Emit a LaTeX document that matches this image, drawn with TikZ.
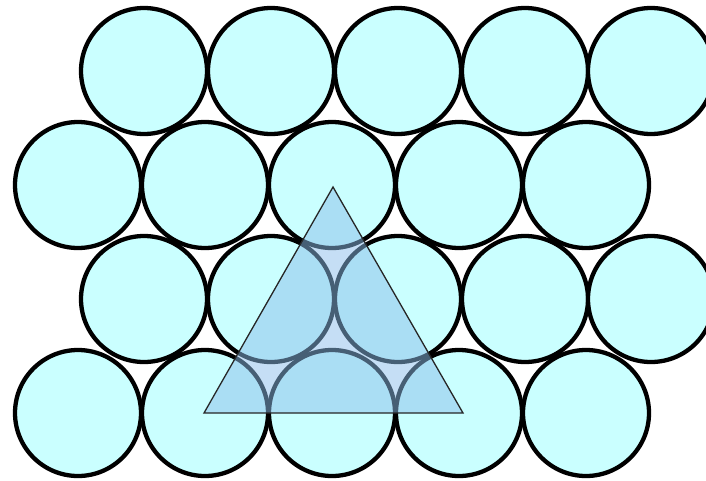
\documentclass[tikz,border=0pt]{standalone}
\usepackage{tikz}
\definecolor{ballfill}{RGB}{202,255,255}
\definecolor{trifill}{RGB}{140,190,235}
\tikzset{
  ball/.style={circle, draw=black, fill=ballfill, line width=4.3pt, minimum size=126pt, inner sep=0pt, outer sep=0pt},
  tri/.style={draw=black!85, line width=1.3pt, fill=trifill, fill opacity=0.5, line join=miter}
}
\begin{document}
\begin{tikzpicture}[x=1pt,y=-1pt]
\useasboundingbox (0,0) rectangle (706,480);
% row 1
\foreach \i/\x in {1/144,2/271,3/398,4/525,5/651}
  \node[ball] (a\i) at (\x,71) {};
% row 2
\foreach \i/\x in {1/78,2/205,3/332,4/459,5/586}
  \node[ball] (b\i) at (\x,185) {};
% row 3
\foreach \i/\x in {1/144,2/271,3/398,4/525,5/651}
  \node[ball] (c\i) at (\x,299) {};
% row 4
\foreach \i/\x in {1/78,2/205,3/332,4/459,5/586}
  \node[ball] (d\i) at (\x,413) {};
% triangle
\coordinate (tA) at (333,187);
\coordinate (tB) at (204,413);
\coordinate (tC) at (463,413);
\draw[tri] (tA) -- (tB) -- (tC) -- cycle;
\end{tikzpicture}
\end{document}
